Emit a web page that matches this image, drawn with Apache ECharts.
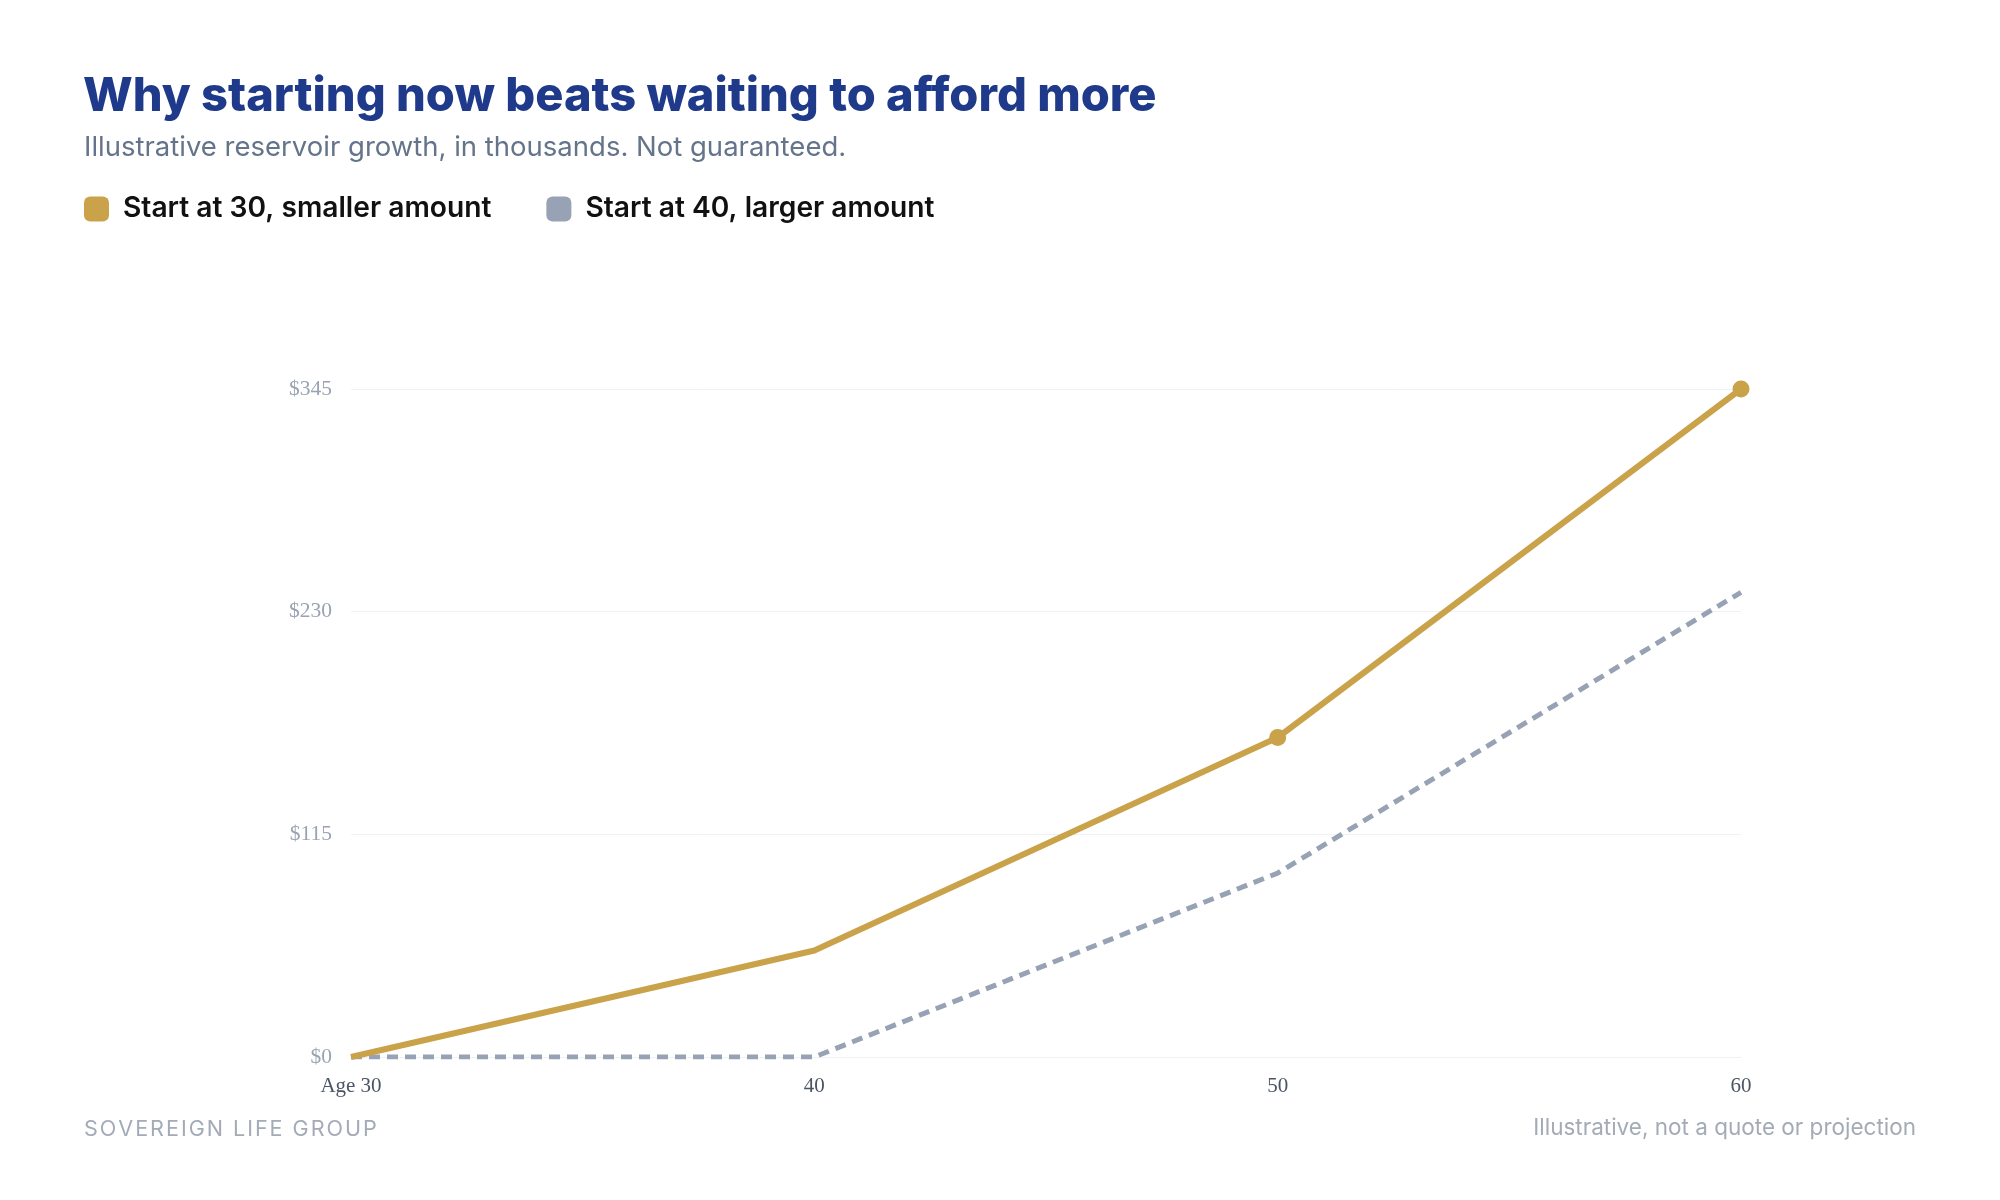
<!DOCTYPE html>
<html>
<head>
<meta charset="utf-8">
<script src="https://cdn.jsdelivr.net/npm/echarts@6/dist/echarts.min.js"></script>
<style>
  html, body { margin: 0; padding: 0; background: #fff; }
  #chart { width: 2000px; height: 1200px; }
</style>
</head>
<body>
<div id="chart"></div>
<script>
// ages along the bottom
var ages = ['Age 30', '40', '50', '60'];
// reservoir value, thousands
var startAt30 = [0, 55, 165, 345];
var startAt40 = [0, 0, 95, 240];
var yTicks = [0, 115, 230, 345];

// spread letters out a bit (tracked caps), canvas text has no letter-spacing
function tracked(s) {
  return s.split('').join('\u200A');
}

var chart = echarts.init(document.getElementById('chart'));

var option = {
  backgroundColor: '#ffffff',
  animation: false,
  title: [{
    text: 'Why starting now beats waiting to afford more',
    left: 78,
    top: 68,
    textStyle: {
      fontFamily: 'Inter',
      fontWeight: 800,
      fontSize: 47,
      color: '#1f3a8a'
    }
  }, {
    text: 'Illustrative reservoir growth, in thousands. Not guaranteed.',
    left: 79,
    top: 129,
    textStyle: {
      fontFamily: 'Inter',
      fontWeight: 400,
      fontSize: 27.5,
      color: '#64748b'
    }
  }],
  legend: {
    left: 79,
    top: 190,
    itemWidth: 25,
    itemHeight: 25,
    itemGap: 55,
    icon: 'roundRect',
    textStyle: {
      fontFamily: 'Inter',
      fontWeight: 600,
      fontSize: 28.2,
      color: '#111111',
      padding: [0, 0, 0, 9]
    },
    data: ['Start at 30, smaller amount', 'Start at 40, larger amount']
  },
  grid: {
    left: 351,
    right: 259,
    top: 389,
    bottom: 143
  },
  xAxis: {
    type: 'category',
    data: ages,
    boundaryGap: false,
    axisLine: { show: false },
    axisTick: { show: false },
    axisLabel: {
      margin: 19,
      fontFamily: 'Liberation Serif',
      fontSize: 21,
      color: '#4b5563'
    }
  },
  yAxis: {
    type: 'value',
    min: yTicks[0],
    max: yTicks[yTicks.length - 1],
    interval: yTicks[1] - yTicks[0],
    axisLine: { show: false },
    axisTick: { show: false },
    splitLine: { lineStyle: { color: '#eef1f5', width: 1 } },
    axisLabel: {
      margin: 19,
      fontFamily: 'Liberation Serif',
      fontSize: 21.5,
      color: '#9aa3b2',
      formatter: function (v) { return '$' + v; }
    }
  },
  series: [{
    name: 'Start at 30, smaller amount',
    type: 'line',
    data: startAt30,
    color: '#c9a24a',
    lineStyle: { width: 6, color: '#c9a24a' },
    itemStyle: { color: '#c9a24a' },
    symbol: 'circle',
    symbolSize: function (v, p) { return p.dataIndex >= 2 ? 17 : 0; },
    z: 3
  }, {
    name: 'Start at 40, larger amount',
    type: 'line',
    data: startAt40,
    color: '#97a2b5',
    lineStyle: { width: 5, color: '#97a2b5', type: [11, 7] },
    itemStyle: { color: '#97a2b5' },
    showSymbol: false,
    symbol: 'none',
    z: 2
  }],
  graphic: [{
    type: 'text',
    left: 84,
    top: 1118,
    style: {
      text: tracked('SOVEREIGN LIFE GROUP'),
      fontFamily: 'Inter',
      fontSize: 21.6,
      fill: '#a3abb7'
    }
  }, {
    type: 'text',
    right: 84,
    top: 1117,
    style: {
      text: 'Illustrative, not a quote or projection',
      fontFamily: 'Inter',
      fontSize: 22.5,
      fill: '#a3abb7'
    }
  }]
};

chart.setOption(option);
</script>
</body>
</html>
